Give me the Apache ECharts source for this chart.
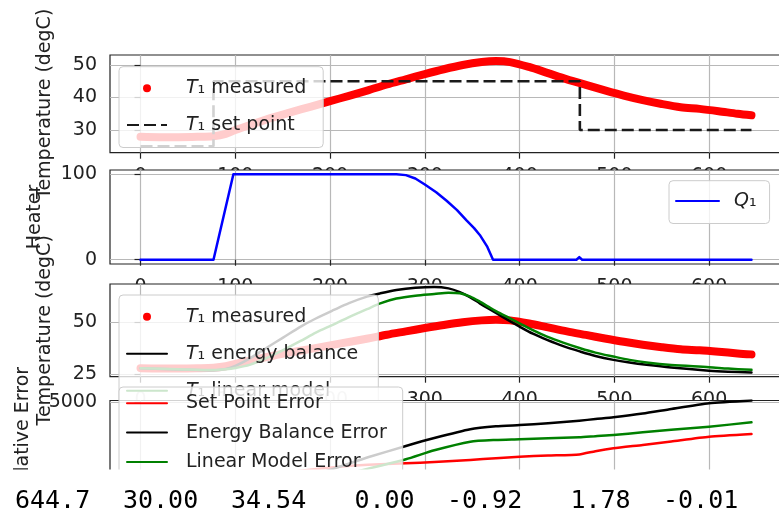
<!DOCTYPE html>
<html><head><meta charset="utf-8">
<script src="https://cdn.jsdelivr.net/npm/echarts@6/dist/echarts.min.js"></script>
<style>html,body{margin:0;padding:0;background:#fff}#c{width:779px;height:511px}</style>
</head><body><div id="c"></div>
<script>
// ---------- tick labels ----------
const xTicks = [0, 100, 200, 300, 400, 500, 600];
const yTicksTemp1 = [30, 40, 50];
const yTicksHeater = [0, 100];
const yTicksTemp2 = [25, 50];
const yTicksErr = [0, 5000];

// ---------- measured temperature ----------
const tMeas = [0, 20, 40, 60, 77, 90, 100, 120, 140, 160, 180, 200, 220, 240, 260, 280, 300, 320, 340, 360, 375, 390, 410, 430, 450, 470, 490, 510, 530, 550, 570, 590, 610, 630, 644.7];
const T1meas = [27.9, 27.8, 27.8, 27.9, 28.1, 28.8, 30.0, 32.0, 33.9, 35.6, 37.2, 38.9, 40.5, 42.2, 44.0, 45.6, 47.2, 48.7, 50.0, 50.9, 51.2, 50.9, 49.4, 47.5, 45.6, 43.9, 42.2, 40.6, 39.2, 38.0, 37.0, 36.5, 35.8, 35.0, 34.54];

// ---------- set point ----------
const tSP = [0, 77, 77, 463.6, 463.6, 644.7];
const Tsp = [25, 25, 45, 45, 30, 30];

// ---------- heater ----------
const tQ = [0, 77, 98, 270, 280, 290, 300, 312, 323, 334, 344, 352, 358, 366, 372, 460, 463, 466, 644.7];
const Q1 = [0, 0, 100, 100, 99, 95, 88, 79, 69, 58, 46, 37, 29, 15, 0, 0, 3, 0, 0];

// ---------- model predictions ----------
const tModel = [0, 40, 77, 90, 100, 115, 134, 150, 169, 185, 204, 220, 239, 253, 270, 290, 310, 325, 337, 348, 358, 367, 376, 388, 400, 414, 429, 446, 464, 480, 499, 516, 534, 560, 600, 620, 644.7];
const T1eb = [27.9, 27.3, 26.8, 27.5, 29.0, 32.5, 38.0, 42.5, 47.9, 51.8, 55.9, 59.2, 62.3, 63.9, 65.5, 66.6, 67.0, 66.3, 64.5, 62.0, 59.1, 56.6, 54.2, 51.0, 47.9, 44.5, 41.5, 38.5, 35.9, 33.8, 31.9, 30.6, 29.5, 28.2, 26.7, 26.2, 25.8];
const T1lin = [27.9, 27.4, 27.0, 27.4, 28.0, 29.5, 33.0, 36.5, 41.0, 45.0, 49.0, 52.5, 56.3, 59.1, 61.4, 62.8, 63.6, 64.2, 63.9, 62.3, 59.9, 57.5, 55.1, 52.3, 49.5, 46.2, 43.1, 40.2, 37.5, 35.4, 33.5, 31.9, 30.6, 29.4, 28.4, 27.7, 27.1];

// ---------- cumulative errors ----------
const tErr = [0, 77, 100, 134, 169, 204, 240, 280, 310, 348, 375, 400, 430, 463, 480, 499, 530, 560, 600, 644.7];
const errSP = [0, 150, 420, 800, 1080, 1280, 1420, 1508, 1580, 1700, 1800, 1885, 1950, 2013, 2200, 2366, 2560, 2760, 3029, 3184];
const errEB = [0, 40, 60, 250, 650, 1200, 1850, 2497, 2950, 3453, 3620, 3698, 3800, 3944, 4040, 4139, 4350, 4614, 4940, 5100];
const errLin = [0, 30, 50, 150, 400, 750, 1200, 1737, 2250, 2743, 2840, 2880, 2940, 2995, 3060, 3127, 3280, 3420, 3602, 3852];

// ---------- printed line ----------
const printed = ['644.7', '30.00', '34.54', '0.00', '-0.92', '1.78', '-0.01'];

// ================================================================
const zip = (a, b) => a.map((v, i) => [v, b[i]]);
const FONT = 'DejaVu Sans';
const FS = 19;
const TXT = '#222';
const L = 110, W = 672;
const grids = [
  {top: 55, height: 97.7},
  {top: 170, height: 94},
  {top: 284, height: 92.7},
  {top: 400.5, height: 93.5}
];
const yRanges = [[23.02, 53.08, yTicksTemp1], [-5, 105, yTicksHeater], [23.8, 68.4, yTicksTemp2], [-250, 5100, yTicksErr]];
const numFmt = v => String(v);

const gridOpt = grids.map((g, i) => ({
  left: L, width: W, top: g.top, height: g.height, show: true,
  backgroundColor: '#ffffff', borderColor: '#222', borderWidth: 1.2,
  zlevel: i, z: 1, outerBoundsMode: 'none', containLabel: false
}));
const xAxes = grids.map((g, i) => ({
  type: 'value', gridIndex: i, min: -32.2, max: 676.9, zlevel: i, z: 2,
  axisLine: {show: false},
  axisTick: {show: true, customValues: xTicks, length: 6, lineStyle: {color: '#222', width: 1.2}},
  axisLabel: {customValues: xTicks, fontSize: FS, color: TXT, margin: 14, fontFamily: FONT, formatter: numFmt},
  splitLine: {show: true, lineStyle: {color: '#b8b8b8', width: 1.2}}
}));
const yAxes = yRanges.map((r, i) => ({
  type: 'value', gridIndex: i, min: r[0], max: r[1], zlevel: i, z: 2,
  axisLine: {show: false},
  axisTick: {show: true, customValues: r[2], length: 6, lineStyle: {color: '#222', width: 1.2}},
  axisLabel: {customValues: r[2], fontSize: FS, color: TXT, margin: 13, fontFamily: FONT, formatter: numFmt},
  splitLine: {show: true, lineStyle: {color: '#b8b8b8', width: 1.2}}
}));

function line(name, gi, t, v, color, width, extra) {
  return Object.assign({
    type: 'line', name, xAxisIndex: gi, yAxisIndex: gi, data: zip(t, v),
    symbol: 'none', showSymbol: false, zlevel: gi, z: 3, silent: true, animation: false,
    lineStyle: {color, width, cap: 'round', join: 'round'}, itemStyle: {color}
  }, extra || {});
}

const series = [
  line('T1 measured', 0, tMeas, T1meas, '#ff0000', 8, {smooth: 0.3}),
  line('T1 set point', 0, tSP, Tsp, '#1a1a1a', 2.6, {lineStyle: {color: '#1a1a1a', width: 2.6, type: [12, 5], cap: 'butt'}}),
  line('Q1', 1, tQ, Q1, '#0000ff', 2.5),
  line('T1 measured', 2, tMeas, T1meas, '#ff0000', 8, {smooth: 0.3}),
  line('T1 energy balance', 2, tModel, T1eb, '#000000', 2.5, {smooth: 0.3}),
  line('T1 linear model', 2, tModel, T1lin, '#008000', 2.5, {smooth: 0.3}),
  line('Set Point Error', 3, tErr, errSP, '#ff0000', 2.5, {smooth: 0.2}),
  line('Energy Balance Error', 3, tErr, errEB, '#000000', 2.5, {smooth: 0.2}),
  line('Linear Model Error', 3, tErr, errLin, '#008000', 2.5, {smooth: 0.2})
];

function richFor(spw) {
  return {
    sp: {width: spw, fontSize: FS, fontFamily: FONT},
    it: {fontStyle: 'italic', fontSize: FS, fontFamily: FONT, color: TXT},
    n: {fontSize: FS, fontFamily: FONT, color: TXT}
  };
}
function fmt(name) {
  if (name.startsWith('T1')) return '{sp| }{it|T}{n|\u2081' + name.slice(2) + '}';
  if (name === 'Q1') return '{sp| }{it|Q}{n|\u2081}';
  return '{sp| }{n|' + name + '}';
}
function legend(gi, left, top, names, gap, pad, iw, spw) {
  return {
    zlevel: gi, z: 5, left, top, orient: 'vertical', selectedMode: false,
    data: names.map(n => n === 'T1 measured'
      ? {name: n, icon: 'circle', itemStyle: {color: '#ff0000', opacity: 1, borderWidth: 0}}
      : n),
    itemWidth: iw || 40, itemHeight: 8, itemGap: gap, padding: pad,
    itemStyle: {opacity: 0},
    backgroundColor: 'rgba(255,255,255,0.8)', borderColor: '#cccccc', borderWidth: 1, borderRadius: 4,
    formatter: fmt,
    textStyle: {fontSize: FS, fontFamily: FONT, color: TXT, lineHeight: 23, rich: richFor(spw || 14)}
  };
}
const legends = [
  legend(0, 119, 66.7, ['T1 measured', 'T1 set point'], 13.7, [10.1, 17, 11, 7]),
  legend(1, 669, 180.7, ['Q1'], 10, [8.8, 13, 11, 6], 43, 10),
  legend(2, 119, 295, ['T1 measured', 'T1 energy balance', 'T1 linear model'], 14, [10.2, 20, 11, 7]),
  legend(3, 119, 387, ['Set Point Error', 'Energy Balance Error', 'Linear Model Error'], 6.3, [4.8, 16, 8, 7])
];

function ylabel(text, x, y) {
  return {type: 'text', x, y, rotation: Math.PI / 2, zlevel: 4, z: 1, silent: true,
    style: {text, fontSize: FS, fontFamily: FONT, fill: TXT, align: 'center', verticalAlign: 'middle'}};
}
// printed line: 7 fields of width 6 separated by one space, monospace
const CH = 15.43, X0 = -0.5;
const printedTexts = printed.map((s, k) => ({
  type: 'text', zlevel: 5, z: 2, silent: true,
  x: X0 + (7 * k + (6 - s.length)) * CH, y: 501,
  style: {text: s, fontSize: 25, fontFamily: 'DejaVu Sans Mono', fill: '#000', verticalAlign: 'middle'}
}));

const option = {
  animation: false,
  backgroundColor: '#ffffff',
  grid: gridOpt, xAxis: xAxes, yAxis: yAxes, series, legend: legends,
  graphic: [
    ylabel('Temperature (degC)', 45.5, 55 + 97.7 / 2),
    ylabel('Heater', 35.5, 170 + 94 / 2),
    ylabel('Temperature (degC)', 45.5, 284 + 92.7 / 2),
    ylabel('Cumulative Error', 23.5, 400.5 + 93.5 / 2),
    {type: 'rect', zlevel: 5, z: 1, silent: true, shape: {x: 0, y: 469.5, width: 779, height: 42}, style: {fill: '#ffffff'}}
  ].concat(printedTexts)
};
const chart = echarts.init(document.getElementById('c'), null, {renderer: 'canvas'});
chart.setOption(option);
</script></body></html>
